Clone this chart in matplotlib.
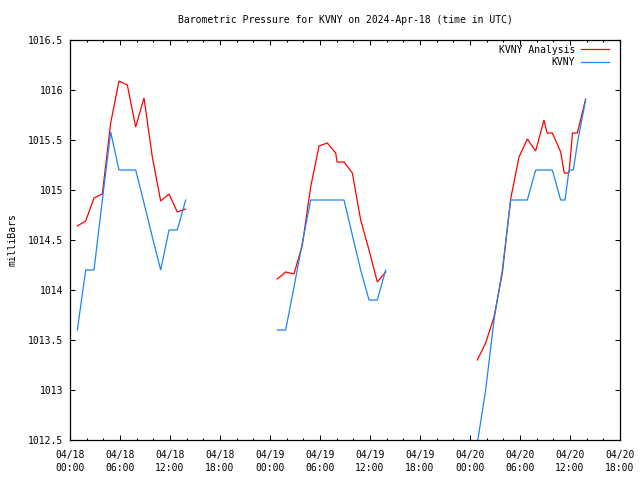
import numpy as np
import matplotlib
matplotlib.use("Agg")
import matplotlib.pyplot as plt
from matplotlib.ticker import MultipleLocator

# ---- data (hours since 2024-04-18 00:00 UTC, pressure in mb) ----
analysis_hours = [0.88, 1.88, 2.88, 3.88, 4.88, 5.88, 6.88, 7.88, 8.88, 9.88, 10.88, 11.88, 12.88, 13.88,
                  19.0,
                  24.88, 25.88, 26.88, 27.88, 28.88, 29.88, 30.88, 31.88, 32.05, 32.88, 33.88, 34.88, 35.88, 36.88, 37.88,
                  43.0,
                  48.88, 49.88, 50.88, 51.88, 52.88, 53.88, 54.88, 55.88, 56.88, 57.25, 57.88, 58.88, 59.3, 59.88,
                  60.3, 60.88, 61.88]
analysis_mb = [1014.64, 1014.69, 1014.92, 1014.96, 1015.67, 1016.09, 1016.05, 1015.63, 1015.92, 1015.33, 1014.89, 1014.96, 1014.78, 1014.81,
               np.nan,
               1014.11, 1014.18, 1014.16, 1014.45, 1015.03, 1015.44, 1015.47, 1015.37, 1015.28, 1015.28, 1015.17, 1014.70, 1014.40, 1014.08, 1014.18,
               np.nan,
               1013.30, 1013.47, 1013.73, 1014.17, 1014.91, 1015.33, 1015.51, 1015.39, 1015.70, 1015.57, 1015.57, 1015.38, 1015.17, 1015.17,
               1015.57, 1015.57, 1015.91]

obs_hours = [0.88, 1.88, 2.88, 3.88, 4.88, 5.88, 6.88, 7.88, 8.88, 9.88, 10.88, 11.88, 12.88, 13.88,
             19.0,
             24.88, 25.88, 26.88, 27.88, 28.88, 29.88, 30.88, 31.88, 32.88, 33.88, 34.88, 35.88, 36.88, 37.88,
             43.0,
             48.88, 49.88, 50.88, 51.88, 52.88, 53.88, 54.88, 55.88, 56.88, 57.88, 58.88, 59.4, 59.88, 60.4, 60.95, 61.88]
obs_mb = [1013.6, 1014.2, 1014.2, 1014.9, 1015.58, 1015.2, 1015.2, 1015.2, 1014.87, 1014.53, 1014.2, 1014.6, 1014.6, 1014.9,
          np.nan,
          1013.6, 1013.6, 1014.03, 1014.47, 1014.9, 1014.9, 1014.9, 1014.9, 1014.9, 1014.55, 1014.2, 1013.9, 1013.9, 1014.2,
          np.nan,
          1012.47, 1013.0, 1013.7, 1014.2, 1014.9, 1014.9, 1014.9, 1015.2, 1015.2, 1015.2, 1014.9, 1014.9, 1015.2, 1015.2, 1015.5, 1015.9]

tick_hours = [0, 6, 12, 18, 24, 30, 36, 42, 48, 54, 60, 66]
tick_labels = ["04/18\n00:00", "04/18\n06:00", "04/18\n12:00", "04/18\n18:00",
               "04/19\n00:00", "04/19\n06:00", "04/19\n12:00", "04/19\n18:00",
               "04/20\n00:00", "04/20\n06:00", "04/20\n12:00", "04/20\n18:00"]
y_ticks = [1012.5, 1013, 1013.5, 1014, 1014.5, 1015, 1015.5, 1016, 1016.5]
y_tick_labels = ["1012.5", "1013", "1013.5", "1014", "1014.5", "1015", "1015.5", "1016", "1016.5"]

RED = "#ff0000"
BLUE = "#1a86f0"
FONT = "DejaVu Sans Mono"
FS = 7

plt.rcParams['font.family'] = [FONT]

fig = plt.figure(figsize=(6.4, 4.8), dpi=100)
ax = fig.add_axes([70/640, 1-440/480, 550/640, 400/480])

ax.plot(analysis_hours, analysis_mb, color=RED, lw=0.9, solid_joinstyle='miter')
ax.plot(obs_hours, obs_mb, color=BLUE, lw=0.9, solid_joinstyle='miter')

ax.set_xlim(0, 66)
ax.set_ylim(1012.5, 1016.5)
ax.set_xticks(tick_hours)
ax.set_xticklabels(tick_labels, fontsize=FS, linespacing=1.45)
ax.xaxis.set_minor_locator(MultipleLocator(2))
ax.set_yticks(y_ticks)
ax.set_yticklabels(y_tick_labels, fontsize=FS)

ax.tick_params(axis='both', which='major', direction='in', length=3.4, width=0.75,
               top=True, right=True, colors='black')
ax.tick_params(axis='x', which='major', pad=7)
ax.tick_params(axis='y', which='major', pad=5)
ax.tick_params(axis='x', which='minor', direction='in', length=1.6, width=0.75,
               top=True, bottom=True)
for s in ax.spines.values():
    s.set_linewidth(0.9)
    s.set_color('black')

ax.set_title("Barometric Pressure for KVNY on 2024-Apr-18 (time in UTC)",
             fontsize=FS, pad=12)
ax.set_ylabel("milliBars", fontsize=FS, labelpad=8)
ax.yaxis.set_label_coords(-0.095, 0.5)

# legend (gnuplot style, right aligned text, sample to the right)
ax.text((575-70)/550, (440-50)/400, "KVNY Analysis", transform=ax.transAxes,
        ha='right', va='center', fontsize=FS)
ax.plot([(581-70)/550, (609-70)/550], [(440-49.5)/400]*2, transform=ax.transAxes,
        color=RED, lw=0.9)
ax.text((575-70)/550, (440-62)/400, "KVNY", transform=ax.transAxes,
        ha='right', va='center', fontsize=FS)
ax.plot([(581-70)/550, (609-70)/550], [(440-62.3)/400]*2, transform=ax.transAxes,
        color=BLUE, lw=0.9)

fig.savefig("out.png", dpi=100)
